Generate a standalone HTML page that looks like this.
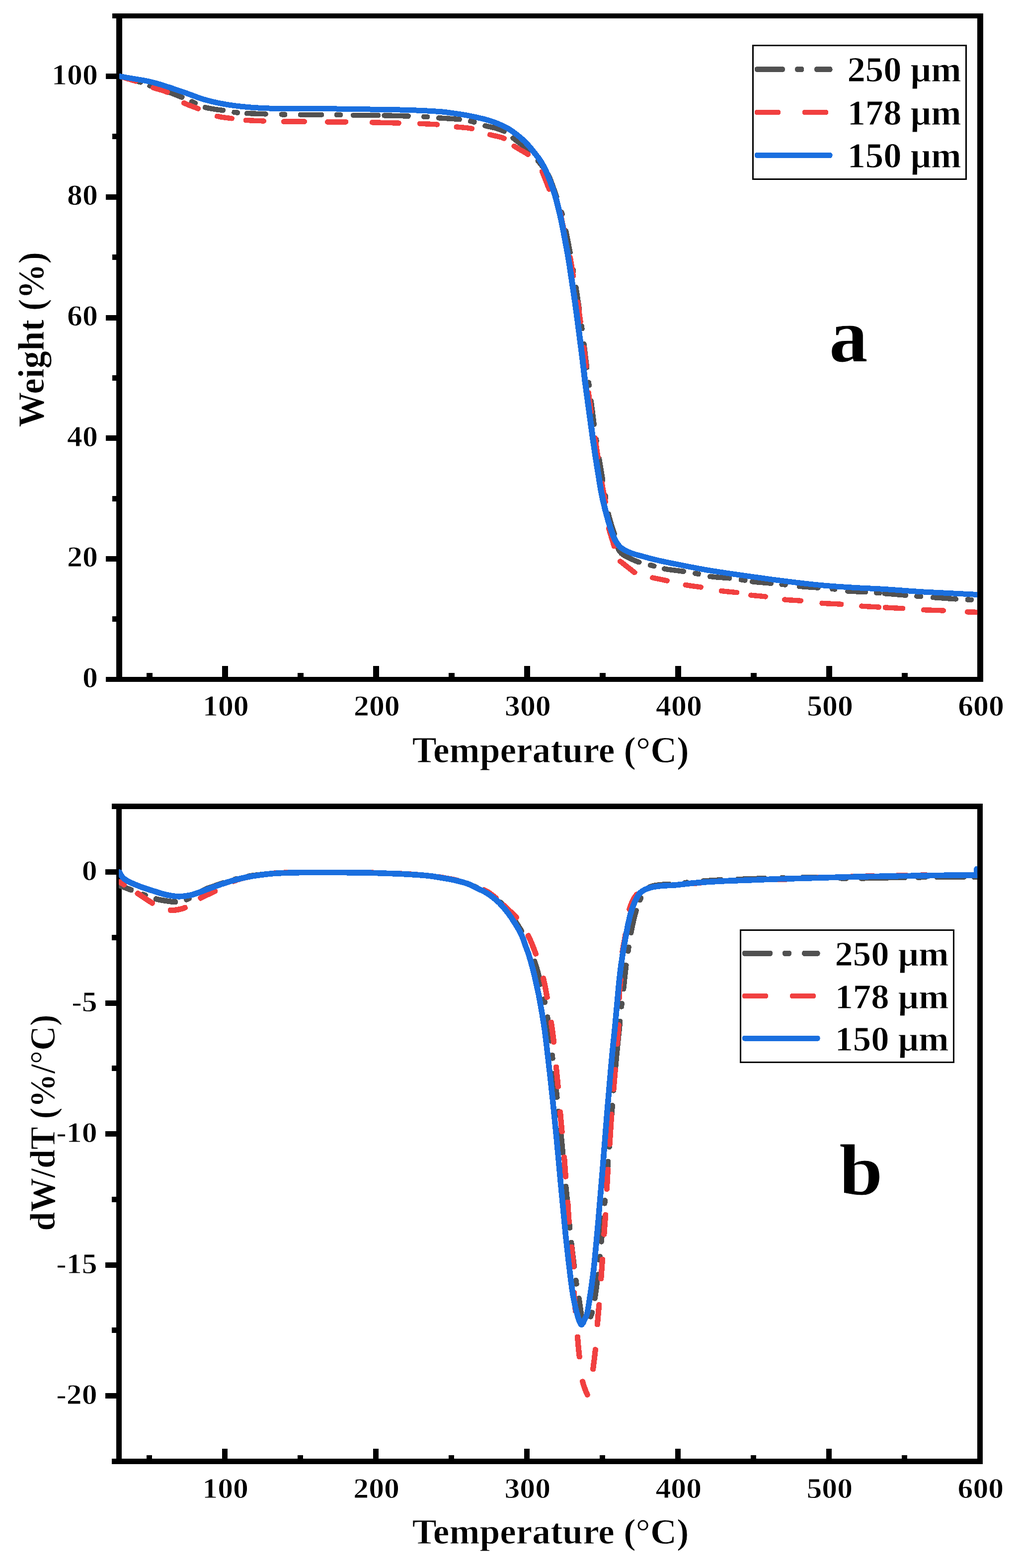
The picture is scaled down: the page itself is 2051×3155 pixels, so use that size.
<!DOCTYPE html>
<html lang="en"><head><meta charset="utf-8"><title>TGA and DTG curves</title>
<style>html,body{margin:0;padding:0;background:#fff}body{width:2051px;height:3155px}svg{display:block}.t{stroke:#fff;stroke-width:.9px;paint-order:fill stroke}</style>
</head><body>
<svg width="2051" height="3155" viewBox="0 0 2051 3155" font-family='"Liberation Serif", "DejaVu Serif", serif' font-weight="bold" fill="#000" shape-rendering="crispEdges">
<rect width="2051" height="3155" fill="#fff"/>
<defs><clipPath id="ca"><rect x="240" y="32" width="1727.2" height="1335"/></clipPath><clipPath id="cb"><rect x="239.1" y="1622" width="1728.1" height="1318"/></clipPath></defs>
<rect x="226.00" y="27.00" width="1753.00" height="10.00" fill="#000"/>
<rect x="213.00" y="1362.00" width="1766.00" height="10.00" fill="#000"/>
<rect x="234.00" y="27.00" width="12.00" height="1345.00" fill="#000"/>
<rect x="1967.00" y="27.00" width="12.00" height="1345.00" fill="#000"/>
<rect x="213.00" y="1119.00" width="27.00" height="10.50" fill="#000"/>
<rect x="213.00" y="876.00" width="27.00" height="10.50" fill="#000"/>
<rect x="213.00" y="634.00" width="27.00" height="10.50" fill="#000"/>
<rect x="213.00" y="391.00" width="27.00" height="10.50" fill="#000"/>
<rect x="213.00" y="148.00" width="27.00" height="10.50" fill="#000"/>
<rect x="226.00" y="1240.00" width="14.00" height="10.50" fill="#000"/>
<rect x="226.00" y="998.00" width="14.00" height="10.50" fill="#000"/>
<rect x="226.00" y="755.00" width="14.00" height="10.50" fill="#000"/>
<rect x="226.00" y="512.00" width="14.00" height="10.50" fill="#000"/>
<rect x="226.00" y="269.00" width="14.00" height="10.50" fill="#000"/>
<rect x="447.00" y="1340.00" width="12.00" height="27.00" fill="#000"/>
<rect x="751.00" y="1340.00" width="12.00" height="27.00" fill="#000"/>
<rect x="1055.00" y="1340.00" width="12.00" height="27.00" fill="#000"/>
<rect x="1359.00" y="1340.00" width="12.00" height="27.00" fill="#000"/>
<rect x="1663.00" y="1340.00" width="12.00" height="27.00" fill="#000"/>
<rect x="295.00" y="1354.00" width="12.00" height="13.00" fill="#000"/>
<rect x="599.00" y="1354.00" width="12.00" height="13.00" fill="#000"/>
<rect x="903.00" y="1354.00" width="12.00" height="13.00" fill="#000"/>
<rect x="1207.00" y="1354.00" width="12.00" height="13.00" fill="#000"/>
<rect x="1511.00" y="1354.00" width="12.00" height="13.00" fill="#000"/>
<rect x="1815.00" y="1354.00" width="12.00" height="13.00" fill="#000"/>
<rect x="225.00" y="1617.00" width="1753.00" height="11.00" fill="#000"/>
<rect x="225.00" y="2935.00" width="1753.00" height="11.00" fill="#000"/>
<rect x="234.00" y="1617.00" width="11.00" height="1329.00" fill="#000"/>
<rect x="1967.00" y="1617.00" width="11.00" height="1329.00" fill="#000"/>
<rect x="212.00" y="1749.00" width="28.00" height="10.50" fill="#000"/>
<rect x="212.00" y="2013.00" width="28.00" height="10.50" fill="#000"/>
<rect x="212.00" y="2276.00" width="28.00" height="10.50" fill="#000"/>
<rect x="212.00" y="2540.00" width="28.00" height="10.50" fill="#000"/>
<rect x="212.00" y="2803.00" width="28.00" height="10.50" fill="#000"/>
<rect x="225.00" y="1881.00" width="15.00" height="10.50" fill="#000"/>
<rect x="225.00" y="2144.00" width="15.00" height="10.50" fill="#000"/>
<rect x="225.00" y="2408.00" width="15.00" height="10.50" fill="#000"/>
<rect x="225.00" y="2671.00" width="15.00" height="10.50" fill="#000"/>
<rect x="447.00" y="2915.00" width="11.00" height="25.00" fill="#000"/>
<rect x="751.00" y="2915.00" width="11.00" height="25.00" fill="#000"/>
<rect x="1055.00" y="2915.00" width="11.00" height="25.00" fill="#000"/>
<rect x="1359.00" y="2915.00" width="11.00" height="25.00" fill="#000"/>
<rect x="1663.00" y="2915.00" width="11.00" height="25.00" fill="#000"/>
<rect x="295.00" y="2928.00" width="11.00" height="12.00" fill="#000"/>
<rect x="599.00" y="2928.00" width="11.00" height="12.00" fill="#000"/>
<rect x="903.00" y="2928.00" width="11.00" height="12.00" fill="#000"/>
<rect x="1207.00" y="2928.00" width="11.00" height="12.00" fill="#000"/>
<rect x="1511.00" y="2928.00" width="11.00" height="12.00" fill="#000"/>
<rect x="1815.00" y="2928.00" width="11.00" height="12.00" fill="#000"/>
<text transform="translate(196.80 1383.20) scale(1.0439 1)" font-size="59.20" text-anchor="end" class="t">0</text>
<text transform="translate(196.80 1140.48) scale(1.0439 1)" font-size="59.20" text-anchor="end" class="t">20</text>
<text transform="translate(196.80 897.76) scale(1.0439 1)" font-size="59.20" text-anchor="end" class="t">40</text>
<text transform="translate(196.80 655.04) scale(1.0439 1)" font-size="59.20" text-anchor="end" class="t">60</text>
<text transform="translate(196.80 412.32) scale(1.0439 1)" font-size="59.20" text-anchor="end" class="t">80</text>
<text transform="translate(196.80 169.60) scale(1.0439 1)" font-size="59.20" text-anchor="end" class="t">100</text>
<text transform="translate(454.33 1439.50) scale(1.0439 1)" font-size="59.20" text-anchor="middle" class="t">100</text>
<text transform="translate(758.37 1439.50) scale(1.0439 1)" font-size="59.20" text-anchor="middle" class="t">200</text>
<text transform="translate(1062.41 1439.50) scale(1.0439 1)" font-size="59.20" text-anchor="middle" class="t">300</text>
<text transform="translate(1366.45 1439.50) scale(1.0439 1)" font-size="59.20" text-anchor="middle" class="t">400</text>
<text transform="translate(1670.49 1439.50) scale(1.0439 1)" font-size="59.20" text-anchor="middle" class="t">500</text>
<text transform="translate(1974.53 1439.50) scale(1.0439 1)" font-size="59.20" text-anchor="middle" class="t">600</text>
<text transform="translate(195.60 1771.00) scale(1.0655 1)" font-size="58.00" text-anchor="end" class="t">0</text>
<text transform="translate(195.60 2034.50) scale(1.0655 1)" font-size="58.00" text-anchor="end" class="t">-5</text>
<text transform="translate(195.60 2298.00) scale(1.0655 1)" font-size="58.00" text-anchor="end" class="t">-10</text>
<text transform="translate(195.60 2561.50) scale(1.0655 1)" font-size="58.00" text-anchor="end" class="t">-15</text>
<text transform="translate(195.60 2825.00) scale(1.0655 1)" font-size="58.00" text-anchor="end" class="t">-20</text>
<text transform="translate(453.63 3013.60) scale(1.0655 1)" font-size="58.00" text-anchor="middle" class="t">100</text>
<text transform="translate(757.67 3013.60) scale(1.0655 1)" font-size="58.00" text-anchor="middle" class="t">200</text>
<text transform="translate(1061.71 3013.60) scale(1.0655 1)" font-size="58.00" text-anchor="middle" class="t">300</text>
<text transform="translate(1365.75 3013.60) scale(1.0655 1)" font-size="58.00" text-anchor="middle" class="t">400</text>
<text transform="translate(1669.79 3013.60) scale(1.0655 1)" font-size="58.00" text-anchor="middle" class="t">500</text>
<text transform="translate(1973.83 3013.60) scale(1.0655 1)" font-size="58.00" text-anchor="middle" class="t">600</text>
<text transform="translate(829.80 1533.73) scale(0.9957 1)" font-size="73.67" class="t">Temperature (°C)</text>
<text transform="translate(829.70 3105.89) scale(1.0058 1)" font-size="72.89" class="t">Temperature (°C)</text>
<text transform="translate(87.58 859.66) rotate(-90) scale(0.9622 1)" font-size="73.74" class="t">Weight (%)</text>
<text transform="translate(109.88 2476.64) rotate(-90) scale(0.9510 1)" font-size="72.00" class="t">dW/dT (%/°C)</text>
<text transform="translate(1668.81 726.83) scale(1.0168 1)" font-size="153.68" class="t">a</text>
<text transform="translate(1688.93 2403.75) scale(1.0886 1)" font-size="145.14" class="t">b</text>
<g clip-path="url(#ca)"><g transform="scale(1.1 1)">
<path d="M218.7 154.3 239.9 160.9 252.5 164.6 257.3 166.1 L257.7 164.8 252.9 163.2 240.3 159.6 219.1 152.9Z M273.8 173.1 276.8 174.3 L277.3 173.0 274.3 171.8Z M296.7 181.6 306.1 185.1 313.5 188.1 322.8 192.0 332.8 196.5 L333.4 195.2 323.3 190.7 314.1 186.8 306.6 183.8 297.2 180.3Z M350.4 205.1 357.0 208.4 L357.7 207.1 351.1 203.8Z M375.1 216.7 381.1 218.3 391.0 220.2 396.1 221.1 408.1 222.7 L408.3 221.3 396.3 219.7 391.3 218.9 381.4 216.9 375.5 215.4Z M428.4 226.5 434.6 227.4 L434.8 226.0 428.6 225.1Z M451.8 228.7 464.9 229.3 486.1 230.1 L486.1 228.7 465.0 227.9 451.9 227.3Z M515.1 231.0 521.3 231.2 L521.3 229.8 515.1 229.6Z M549.8 231.4 588.4 231.4 L588.4 230.0 549.8 230.0Z M616.1 231.8 623.0 232.0 L623.0 230.6 616.1 230.4Z M646.4 232.7 692.3 232.9 L692.3 231.5 646.4 231.3Z M703.1 233.1 725.1 233.6 747.1 234.3 L747.2 232.9 725.2 232.2 703.1 231.7Z M775.5 235.6 782.0 236.0 L782.1 234.7 775.6 234.2Z M802.8 238.0 828.8 239.8 840.7 241.0 L840.9 239.6 828.9 238.4 802.9 236.6Z M860.7 244.4 864.7 245.4 867.6 246.4 L868.0 245.0 865.1 244.1 861.1 243.0Z M887.4 253.6 892.3 254.9 903.0 257.5 907.8 258.8 916.2 261.9 919.8 263.5 922.5 264.9 L923.2 263.7 920.5 262.2 916.8 260.6 908.2 257.5 903.4 256.1 892.6 253.6 887.8 252.3Z M938.3 278.0 957.0 293.9 963.0 299.3 967.3 303.6 L968.4 302.7 964.0 298.3 957.9 292.8 939.2 276.9Z M984.0 323.9 993.2 336.6 L994.3 335.8 985.2 323.0Z M1002.4 352.1 1004.3 356.8 1006.8 363.4 1012.9 381.6 1017.5 396.0 L1018.8 395.6 1014.2 381.2 1008.1 362.9 1005.6 356.2 1003.6 351.6Z M1026.5 426.9 1027.7 431.8 L1029.1 431.4 1027.8 426.5Z M1034.3 464.1 1038.1 485.2 1042.1 508.3 L1043.5 508.1 1039.5 484.9 1035.6 463.8Z M1047.6 542.5 1048.2 546.2 L1049.6 545.9 1049.0 542.2Z M1052.8 577.8 1059.0 623.3 L1060.4 623.2 1054.2 577.6Z M1063.1 655.6 1063.9 662.1 L1065.3 661.9 1064.5 655.4Z M1067.4 691.5 1072.7 740.1 L1074.1 740.0 1068.7 691.4Z M1075.9 769.1 1076.8 776.1 L1078.2 776.0 1077.3 768.9Z M1080.3 806.1 1086.1 854.5 L1087.4 854.4 1081.7 805.9Z M1089.8 883.8 1090.4 887.7 L1091.8 887.5 1091.2 883.6Z M1095.3 922.4 1101.9 966.6 L1103.2 966.4 1096.6 922.2Z M1106.4 996.4 1107.2 1002.2 L1108.6 1002.0 1107.8 996.2Z M1112.1 1033.6 1113.9 1041.6 1117.0 1053.3 1123.3 1074.7 L1124.7 1074.3 1118.3 1053.0 1115.3 1041.2 1113.4 1033.3Z M1130.1 1102.2 1131.5 1106.0 1132.9 1108.8 1134.0 1110.5 L1135.2 1109.7 1134.1 1108.1 1132.8 1105.4 1131.4 1101.7Z M1136.6 1113.7 1138.8 1115.8 1140.5 1117.1 1143.0 1118.8 1146.5 1120.9 1155.4 1125.7 1159.9 1128.0 1164.5 1130.1 1169.2 1132.0 L1169.7 1130.7 1165.0 1128.8 1160.5 1126.7 1156.0 1124.5 1147.2 1119.7 1143.7 1117.6 1141.3 1116.0 1139.8 1114.7 1137.6 1112.7Z M1189.7 1137.7 1196.6 1139.6 L1197.0 1138.3 1190.1 1136.3Z M1215.3 1145.2 1220.4 1146.2 1225.4 1147.0 1250.7 1150.5 L1250.9 1149.1 1225.6 1145.6 1220.6 1144.8 1215.6 1143.8Z M1271.7 1154.3 1277.8 1155.7 L1278.2 1154.3 1272.0 1153.0Z M1299.1 1160.7 1309.3 1161.9 1334.9 1164.1 L1335.0 1162.7 1309.4 1160.5 1299.3 1159.3Z M1355.9 1167.0 1363.0 1168.3 L1363.3 1166.9 1356.1 1165.6Z M1376.3 1171.0 1386.4 1172.2 1410.7 1174.4 L1410.9 1173.0 1386.5 1170.8 1376.4 1169.6Z M1430.3 1176.5 1436.9 1177.3 L1437.1 1175.9 1430.5 1175.1Z M1462.4 1180.6 1472.6 1181.5 1497.0 1183.3 L1497.1 1181.9 1472.7 1180.1 1462.5 1179.2Z M1522.8 1185.7 1527.7 1186.3 L1527.9 1184.9 1523.0 1184.3Z M1551.0 1190.2 1560.0 1190.8 1584.0 1191.6 L1584.1 1190.2 1560.1 1189.4 1551.1 1188.8Z M1603.5 1193.4 1609.5 1194.0 L1609.7 1192.6 1603.6 1192.0Z M1618.5 1194.9 1657.1 1198.4 L1657.3 1197.0 1618.6 1193.5Z M1677.3 1200.3 1684.6 1200.9 L1684.8 1199.5 1677.4 1198.9Z M1707.3 1202.8 1749.0 1206.1 L1749.1 1204.7 1707.4 1201.4Z M1770.5 1207.2 1777.3 1207.6 L1777.3 1206.2 1770.5 1205.8Z" fill="#515151" stroke="#515151" stroke-width="9.00" stroke-linejoin="round"/>
<path d="M218.6 154.3 248.3 164.1 L248.7 162.8 219.0 152.9Z M280.0 177.1 284.8 178.8 297.4 182.7 302.1 184.5 305.8 186.2 L306.4 185.0 302.6 183.3 297.9 181.4 285.2 177.4 280.5 175.8Z M335.9 207.5 340.3 209.9 344.9 212.0 362.6 219.3 L363.1 218.0 345.5 210.7 340.9 208.6 336.5 206.3Z M397.1 234.4 402.0 235.7 407.1 236.7 424.2 239.1 L424.4 237.7 407.3 235.3 402.3 234.3 397.5 233.1Z M449.6 242.6 461.7 243.3 482.7 244.2 L482.8 242.8 461.7 241.9 449.8 241.2Z M518.9 245.3 557.3 245.3 L557.3 243.9 518.9 243.9Z M599.1 246.1 633.0 246.1 L633.0 244.7 599.1 244.7Z M680.8 247.0 729.8 248.3 L729.8 246.9 680.8 245.6Z M768.2 249.6 788.8 250.4 800.0 251.2 L800.2 249.8 788.8 249.1 768.2 248.2Z M834.9 256.0 854.5 258.0 859.5 258.8 863.6 259.6 L863.9 258.2 859.8 257.4 854.6 256.6 835.1 254.6Z M896.1 271.4 901.0 272.9 910.9 275.3 914.8 276.3 918.6 277.6 922.2 279.3 L922.8 278.1 919.1 276.3 915.2 275.0 911.2 273.9 901.4 271.5 896.5 270.1Z M940.2 294.3 945.9 298.3 959.5 306.9 962.8 309.1 965.9 311.5 L966.8 310.4 963.6 308.0 960.3 305.7 946.7 297.2 941.0 293.2Z M991.4 344.6 1001.9 373.8 1004.7 381.3 L1006.0 380.8 1003.2 373.3 992.7 344.1Z M1023.2 424.6 1025.1 432.5 1028.2 449.6 1030.7 461.6 L1032.1 461.4 1029.6 449.3 1026.5 432.2 1024.5 424.2Z M1042.2 517.5 1044.3 530.4 1048.0 556.1 L1049.4 555.9 1045.7 530.2 1043.6 517.3Z M1056.1 607.4 1061.2 647.6 L1062.6 647.5 1057.5 607.2Z M1067.2 698.3 1069.9 722.7 1071.5 738.0 L1072.9 737.9 1071.3 722.6 1068.6 698.2Z M1075.8 789.6 1077.7 806.6 1080.6 829.6 L1082.0 829.4 1079.1 806.4 1077.2 789.4Z M1087.7 880.6 1093.1 920.5 L1094.5 920.3 1089.1 880.4Z M1100.2 971.5 1106.8 1010.2 L1108.2 1010.0 1101.6 971.3Z M1113.5 1062.7 1114.7 1067.6 1117.6 1078.3 1123.5 1099.5 L1124.9 1099.2 1119.0 1077.9 1116.1 1067.2 1114.9 1062.4Z M1134.1 1129.8 1137.2 1132.2 1159.3 1151.3 1160.7 1152.7 L1161.7 1151.7 1160.2 1150.3 1138.1 1131.2 1134.9 1128.7Z M1193.7 1163.0 1220.7 1169.2 L1221.0 1167.8 1194.0 1161.7Z M1254.0 1177.6 1262.1 1179.1 1282.5 1182.2 L1282.7 1180.8 1262.3 1177.7 1254.3 1176.2Z M1319.6 1189.6 1325.7 1190.5 1341.1 1192.1 1348.3 1193.0 L1348.5 1191.6 1341.3 1190.7 1325.9 1189.1 1319.8 1188.3Z M1373.8 1198.2 1379.8 1199.0 1393.8 1200.4 1400.7 1201.2 L1400.9 1199.8 1393.9 1199.0 1380.0 1197.6 1374.0 1196.9Z M1435.4 1207.2 1443.6 1208.0 1458.1 1208.9 1465.3 1209.5 L1465.4 1208.1 1458.2 1207.5 1443.7 1206.6 1435.5 1205.8Z M1504.0 1214.4 1512.1 1215.0 1531.4 1216.0 1539.5 1216.5 L1539.6 1215.1 1531.5 1214.6 1512.2 1213.6 1504.1 1213.0Z M1576.4 1220.3 1586.7 1221.0 1608.3 1222.3 L1608.4 1220.9 1586.8 1219.6 1576.5 1218.9Z M1619.7 1223.1 1652.1 1225.0 L1652.2 1223.6 1619.8 1221.7Z M1689.9 1227.9 1726.3 1229.2 L1726.3 1227.8 1690.0 1226.5Z M1770.0 1232.0 1790.9 1232.6 L1791.0 1231.2 1770.0 1230.6Z" fill="#F14040" stroke="#F14040" stroke-width="9.00" stroke-linejoin="round"/>
<path d="M214.5 152.8 L263.4 161.9 L271.9 163.7 L279.4 165.7 L292.8 169.8 L311.1 176.2 L340.5 187.3 L363.7 196.7 L374.5 200.5 L386.5 204.0 L399.5 207.2 L413.8 210.2 L427.1 212.4 L442.7 214.4 L458.3 216.0 L476.3 217.3 L494.9 218.1 L513.5 218.5 L568.5 218.5 L596.7 218.7 L719.4 220.7 L746.6 221.4 L766.8 222.2 L789.3 223.4 L807.5 224.8 L813.5 225.4 L829.6 227.8 L850.2 231.2 L867.0 234.8 L884.7 239.3 L896.4 242.9 L906.1 246.7 L920.2 253.2 L925.2 256.0 L929.9 258.9 L937.5 264.3 L945.4 270.7 L953.0 277.6 L960.5 285.2 L965.5 291.0 L969.7 296.2 L984.5 316.7 L987.0 320.4 L991.2 327.9 L995.5 336.4 L998.7 343.7 L1002.7 353.8 L1006.8 365.1 L1010.6 376.7 L1015.1 391.3 L1017.8 401.4 L1024.5 430.9 L1028.5 451.1 L1032.0 471.2 L1039.0 512.5 L1041.9 531.9 L1051.8 605.0 L1055.0 629.9 L1065.7 720.9 L1070.3 765.5 L1084.4 879.3 L1089.9 920.7 L1099.8 987.9 L1103.4 1007.0 L1107.5 1025.9 L1112.5 1046.2 L1118.0 1065.9 L1122.2 1078.5 L1125.3 1086.2 L1127.4 1090.2 L1129.7 1094.1 L1131.7 1097.0 L1133.8 1099.6 L1135.9 1101.7 L1138.1 1103.5 L1143.6 1107.3 L1149.3 1110.4 L1156.9 1113.6 L1163.0 1115.7 L1175.7 1119.4 L1191.7 1124.3 L1207.8 1128.5 L1229.6 1133.5 L1273.1 1142.9 L1294.6 1147.2 L1334.1 1153.9 L1411.6 1165.9 L1447.4 1170.9 L1478.4 1174.9 L1502.5 1177.6 L1525.3 1179.7 L1567.8 1182.7 L1618.1 1185.4 L1671.3 1189.7 L1689.7 1191.0 L1795.5 1196.8" fill="none" stroke="#1A6FDF" stroke-width="11.0" stroke-linejoin="round" stroke-linecap="round"/>
</g></g>
<g clip-path="url(#cb)"><g transform="scale(1.0 1)">
<path d="M240.3 1782.3 264.1 1791.6 L264.7 1790.1 240.8 1780.8Z M287.0 1800.4 292.5 1802.5 L293.1 1801.0 287.5 1798.9Z M313.3 1809.5 318.2 1810.7 323.2 1811.7 339.2 1814.2 347.2 1815.2 350.3 1815.5 353.3 1815.5 L353.3 1813.9 350.3 1813.9 347.3 1813.7 339.4 1812.7 323.5 1810.2 318.6 1809.2 313.7 1808.0Z M375.2 1810.8 380.9 1808.5 L380.3 1807.0 374.6 1809.3Z M404.6 1795.2 408.0 1793.1 410.6 1791.6 416.1 1789.1 441.0 1780.2 450.6 1776.9 L450.1 1775.4 440.5 1778.7 415.5 1787.6 409.9 1790.2 407.2 1791.7 403.7 1793.9Z M473.0 1770.0 477.6 1768.8 L477.2 1767.3 472.6 1768.5Z M499.9 1764.1 507.7 1762.8 516.7 1761.6 529.6 1760.2 540.5 1759.1 L540.4 1757.5 529.4 1758.6 516.5 1760.0 507.5 1761.2 499.6 1762.5Z M564.6 1757.6 570.2 1757.4 L570.2 1755.8 564.5 1756.0Z M594.8 1756.6 606.9 1756.6 640.1 1756.6 L640.1 1755.0 606.9 1755.0 594.8 1755.0Z M664.9 1756.6 669.9 1756.6 L669.9 1755.0 664.9 1755.0Z M695.0 1756.6 723.0 1756.8 740.0 1757.1 L740.0 1755.5 723.0 1755.2 695.0 1755.0Z M764.8 1758.0 770.0 1758.1 L770.0 1756.5 764.8 1756.4Z M794.6 1758.9 812.9 1759.7 840.3 1761.3 L840.4 1759.7 812.9 1758.1 794.6 1757.3Z M862.9 1763.2 868.2 1763.9 L868.4 1762.3 863.1 1761.7Z M890.5 1767.4 903.4 1769.7 912.4 1771.4 924.2 1774.1 933.0 1776.4 L933.4 1774.8 924.6 1772.6 912.7 1769.9 903.7 1768.1 890.8 1765.8Z M954.0 1784.1 959.3 1786.6 L960.0 1785.1 954.7 1782.7Z M978.9 1795.9 983.4 1798.5 988.6 1802.0 993.6 1805.6 997.7 1808.8 L998.7 1807.5 994.6 1804.3 989.5 1800.7 984.2 1797.2 979.7 1794.5Z M1006.1 1816.0 1009.7 1819.6 1013.2 1823.3 L1014.3 1822.2 1010.8 1818.5 1007.2 1814.9Z M1026.3 1839.3 1030.6 1845.0 1034.6 1850.9 1045.5 1868.2 1049.2 1874.3 L1050.6 1873.5 1046.9 1867.4 1035.9 1850.0 1031.9 1844.1 1027.6 1838.3Z M1075.0 1934.3 1078.4 1944.8 1081.7 1956.4 1083.7 1964.2 1087.5 1981.0 L1089.0 1980.6 1085.2 1963.9 1083.3 1956.0 1079.9 1944.3 1076.5 1933.8Z M1094.2 2010.0 1095.7 2017.6 L1097.3 2017.3 1095.8 2009.7Z M1100.9 2046.1 1103.0 2059.0 1104.6 2069.9 1106.2 2081.9 1107.6 2094.8 L1109.2 2094.7 1107.8 2081.7 1106.2 2069.7 1104.6 2058.8 1102.5 2045.9Z M1110.6 2122.9 1111.4 2129.8 L1112.9 2129.7 1112.2 2122.7Z M1114.7 2159.4 1120.2 2208.2 L1121.8 2208.0 1116.3 2159.2Z M1123.2 2235.9 1124.1 2244.8 L1125.7 2244.6 1124.7 2235.7Z M1127.2 2273.3 1129.7 2297.2 1131.9 2320.2 L1133.5 2320.0 1131.3 2297.1 1128.8 2273.2Z M1134.5 2349.9 1135.0 2355.2 L1136.6 2355.1 1136.1 2349.7Z M1138.0 2386.9 1142.6 2434.3 L1144.2 2434.2 1139.6 2386.7Z M1145.4 2464.3 1146.0 2471.2 L1147.6 2471.1 1147.0 2464.2Z M1148.9 2499.9 1154.8 2548.7 L1156.4 2548.5 1150.5 2499.7Z M1158.1 2575.8 1159.3 2583.9 L1160.9 2583.7 1159.7 2575.6Z M1164.3 2611.9 1169.6 2649.1 1170.3 2652.1 1171.7 2656.0 L1173.2 2655.4 1171.8 2651.7 1171.0 2647.8 1165.9 2611.6Z M1189.0 2649.9 1191.2 2644.8 1192.5 2640.5 L1191.0 2640.1 1189.7 2644.2 1187.6 2649.3Z M1197.9 2613.0 1199.1 2605.1 1200.4 2596.1 1204.4 2564.3 L1202.9 2564.1 1198.8 2595.9 1197.6 2604.8 1196.3 2612.7Z M1207.6 2535.8 1208.3 2527.9 L1206.7 2527.8 1206.0 2535.7Z M1211.0 2498.8 1215.2 2450.6 L1213.6 2450.5 1209.4 2498.7Z M1217.6 2421.8 1218.2 2414.9 L1216.6 2414.8 1216.0 2421.7Z M1220.8 2384.3 1224.7 2336.9 L1223.1 2336.8 1219.2 2384.2Z M1227.0 2308.2 1229.0 2280.6 L1227.4 2280.5 1225.4 2308.1Z M1230.1 2265.3 1233.2 2224.0 L1231.6 2223.9 1228.5 2265.1Z M1235.4 2194.8 1237.1 2174.8 L1235.5 2174.7 1233.8 2194.7Z M1238.7 2156.8 1242.1 2119.8 1248.7 2054.8 L1247.1 2054.7 1240.5 2119.6 1237.1 2156.6Z M1251.4 2025.9 1252.1 2018.7 L1250.5 2018.6 1249.8 2025.8Z M1255.5 1990.3 1260.8 1942.0 L1259.3 1941.8 1253.9 1990.1Z M1264.8 1914.2 1266.1 1905.5 L1264.5 1905.3 1263.2 1914.0Z M1270.6 1877.2 1273.2 1864.3 1276.0 1851.5 1278.7 1840.7 1281.1 1832.0 L1279.6 1831.5 1277.1 1840.3 1274.5 1851.1 1271.6 1864.0 1269.0 1876.9Z M1288.6 1811.6 1290.7 1806.4 L1289.2 1805.8 1287.1 1811.0Z M1307.6 1785.5 1315.3 1783.2 1318.2 1782.6 1321.2 1782.1 1326.1 1781.5 1337.2 1780.6 1347.2 1780.0 L1347.2 1778.4 1337.0 1779.0 1326.0 1780.0 1320.9 1780.5 1317.9 1781.0 1314.9 1781.7 1307.1 1784.0Z M1378.5 1777.3 1383.2 1776.7 L1383.0 1775.1 1378.3 1775.7Z M1415.0 1773.7 1432.0 1772.5 1452.0 1771.4 L1451.9 1769.8 1431.9 1771.0 1414.9 1772.1Z M1484.6 1770.2 1505.7 1769.6 1539.9 1768.2 L1539.9 1766.6 1505.7 1768.0 1484.6 1768.6Z M1573.8 1767.2 1577.2 1767.1 L1577.2 1765.5 1573.8 1765.6Z M1615.0 1766.5 1639.1 1766.3 1655.2 1766.3 L1655.2 1764.7 1639.1 1764.7 1615.0 1764.9Z M1691.1 1767.7 1703.9 1768.0 L1703.9 1766.4 1691.1 1766.1Z M1732.6 1767.9 1793.3 1766.6 1821.6 1766.2 L1821.5 1764.6 1793.2 1765.0 1732.6 1766.3Z M1846.6 1765.8 1862.8 1765.6 L1862.8 1764.0 1846.5 1764.2Z M1885.1 1765.3 1914.4 1765.1 1940.6 1765.1 L1940.6 1763.5 1914.4 1763.5 1885.1 1763.7Z M1960.0 1765.1 1970.2 1765.1 L1970.2 1763.5 1960.0 1763.5Z" fill="#515151" stroke="#515151" stroke-width="9.60" stroke-linejoin="round"/>
<path d="M239.9 1774.9 249.9 1781.0 L250.7 1779.7 240.7 1773.5Z M276.2 1797.9 296.3 1811.5 301.4 1814.8 306.6 1817.9 L307.4 1816.6 302.3 1813.4 297.2 1810.2 277.1 1796.6Z M342.7 1832.2 345.8 1832.4 349.0 1832.3 353.1 1831.9 358.3 1831.1 362.3 1830.3 366.4 1829.3 370.4 1828.0 373.3 1826.8 L372.6 1825.4 369.8 1826.5 366.0 1827.8 362.0 1828.7 358.0 1829.5 352.9 1830.3 348.9 1830.8 345.9 1830.8 342.8 1830.6Z M403.9 1807.9 410.1 1804.6 426.5 1796.9 433.7 1793.2 L433.0 1791.8 425.8 1795.5 409.4 1803.2 403.1 1806.6Z M469.7 1774.0 476.2 1771.5 483.8 1769.1 492.6 1766.9 505.4 1764.2 L505.1 1762.7 492.2 1765.4 483.4 1767.5 475.6 1769.9 469.0 1772.6Z M550.1 1758.0 565.1 1757.1 585.2 1756.5 L585.2 1754.9 565.0 1755.5 549.9 1756.4Z M634.8 1756.2 669.9 1756.1 L669.9 1754.5 634.8 1754.6Z M719.7 1756.3 738.9 1756.5 755.2 1757.0 L755.2 1755.4 739.0 1754.9 719.7 1754.7Z M804.6 1758.7 823.0 1759.6 840.3 1760.7 L840.4 1759.1 823.0 1758.0 804.7 1757.1Z M884.8 1765.7 906.6 1769.4 913.4 1770.7 920.2 1772.3 L920.6 1770.8 913.8 1769.2 906.9 1767.8 885.1 1764.1Z M973.2 1791.3 978.7 1793.8 981.3 1795.3 983.9 1796.9 990.4 1801.6 998.3 1808.1 L999.3 1806.9 991.4 1800.4 984.7 1795.6 982.1 1793.9 979.4 1792.4 973.8 1789.8Z M1013.2 1822.0 1024.1 1832.4 1033.0 1840.5 1035.8 1843.4 1039.1 1847.1 L1040.3 1846.0 1036.9 1842.3 1034.1 1839.4 1025.2 1831.2 1014.3 1820.8Z M1062.3 1882.5 1065.8 1889.9 1069.8 1899.2 1073.9 1909.6 1077.8 1920.0 L1079.3 1919.5 1075.4 1909.0 1071.3 1898.6 1067.2 1889.2 1063.8 1881.8Z M1092.6 1968.2 1094.3 1975.1 1096.0 1983.1 1100.4 2007.1 L1102.0 2006.9 1097.6 1982.8 1095.8 1974.8 1094.2 1967.8Z M1108.5 2056.6 1111.5 2077.8 1113.9 2097.0 L1115.5 2096.9 1113.1 2077.6 1110.1 2056.4Z M1118.7 2146.6 1122.5 2187.1 L1124.1 2186.9 1120.2 2146.4Z M1126.7 2237.1 1130.3 2277.6 L1131.9 2277.4 1128.3 2236.9Z M1134.8 2328.1 1137.7 2368.1 L1139.3 2367.9 1136.4 2327.9Z M1141.9 2418.6 1143.7 2448.6 1144.5 2459.6 L1146.1 2459.4 1145.3 2448.5 1143.5 2418.5Z M1149.7 2508.6 1152.5 2535.5 1153.6 2549.5 L1155.2 2549.4 1154.1 2535.3 1151.2 2508.4Z M1154.6 2600.4 1155.4 2613.4 1157.7 2638.4 L1159.3 2638.2 1157.0 2613.3 1156.2 2600.3Z M1161.6 2689.6 1163.6 2712.6 1165.5 2730.7 L1167.1 2730.5 1165.2 2712.5 1163.2 2689.5Z M1171.7 2779.6 1173.3 2785.5 1175.6 2792.2 1178.1 2798.8 1181.7 2807.1 L1183.1 2806.5 1179.6 2798.2 1177.1 2791.6 1174.8 2785.0 1173.2 2779.2Z M1194.3 2755.5 1197.2 2733.3 1199.2 2715.2 L1197.7 2715.0 1195.7 2733.2 1192.8 2755.3Z M1203.1 2665.6 1206.6 2625.1 L1205.0 2625.0 1201.5 2665.4Z M1210.5 2573.5 1213.4 2533.6 L1211.8 2533.5 1208.9 2573.4Z M1216.6 2484.1 1219.6 2444.1 L1218.0 2444.0 1215.0 2484.0Z M1222.1 2393.0 1224.3 2352.6 L1222.7 2352.5 1220.5 2392.9Z M1227.8 2303.0 1231.7 2241.6 L1230.1 2241.5 1226.2 2302.9Z M1235.9 2191.9 1239.0 2151.6 L1237.4 2151.5 1234.3 2191.8Z M1243.1 2101.0 1245.0 2076.9 1245.9 2061.8 L1244.3 2061.7 1243.4 2076.8 1241.5 2100.9Z M1246.8 2009.2 1247.1 2001.1 1247.6 1994.0 1250.1 1970.7 L1248.5 1970.6 1246.0 1993.9 1245.5 2001.0 1245.2 2009.2Z M1253.5 1915.8 1254.9 1907.8 1258.2 1889.6 1259.6 1880.5 L1258.1 1880.3 1256.6 1889.4 1253.3 1907.5 1251.9 1915.6Z M1267.6 1830.3 1268.8 1826.4 1270.4 1821.7 1272.3 1817.1 1274.3 1812.6 1276.2 1809.1 1277.7 1806.6 1280.6 1802.5 1282.3 1800.1 L1281.1 1799.1 1279.3 1801.6 1276.4 1805.7 1274.8 1808.3 1272.9 1811.9 1270.8 1816.5 1268.9 1821.2 1267.2 1825.9 1266.1 1829.8Z M1304.9 1788.0 1311.6 1786.1 1314.5 1785.5 1318.4 1784.8 1326.3 1783.9 1340.2 1782.8 L1340.2 1781.2 1326.1 1782.3 1318.1 1783.2 1314.2 1783.9 1311.2 1784.6 1304.4 1786.5Z M1399.0 1778.0 1410.4 1777.0 L1410.3 1775.4 1398.8 1776.4Z M1468.1 1773.5 1471.0 1773.4 L1471.0 1771.8 1468.0 1771.9Z M1567.0 1770.3 1584.3 1769.7 L1584.2 1768.1 1566.9 1768.7Z M1635.0 1767.3 1665.2 1766.0 L1665.1 1764.4 1634.9 1765.7Z M1714.4 1764.3 1721.0 1764.1 L1720.9 1762.5 1714.4 1762.7Z M1743.0 1763.7 1758.3 1763.4 L1758.3 1761.8 1743.0 1762.1Z M1805.1 1762.7 1825.3 1762.4 L1825.2 1760.8 1805.0 1761.1Z M1852.9 1761.9 1865.4 1761.7 L1865.4 1760.1 1852.9 1760.3Z M1912.2 1761.2 1926.3 1761.1 L1926.3 1759.5 1912.2 1759.6Z" fill="#F14040" stroke="#F14040" stroke-width="9.60" stroke-linejoin="round"/>
<path d="M236.0 1754.5 L239.1 1754.5 L240.3 1755.0 L241.1 1756.1 L243.0 1760.0 L246.1 1764.4 L249.2 1767.6 L252.9 1770.4 L256.6 1772.7 L261.3 1775.1 L267.8 1778.1 L275.9 1781.4 L284.1 1784.6 L291.7 1787.3 L321.2 1796.7 L328.5 1798.9 L336.9 1800.9 L345.8 1802.5 L352.8 1803.4 L359.3 1803.8 L366.4 1803.6 L373.5 1802.9 L381.6 1801.5 L389.0 1799.7 L396.9 1797.1 L428.1 1785.3 L446.8 1778.6 L466.2 1772.5 L482.4 1768.1 L496.6 1764.9 L510.5 1762.4 L529.4 1759.8 L546.2 1757.9 L556.4 1757.2 L568.3 1756.6 L602.0 1755.7 L669.6 1755.6 L722.8 1755.8 L741.4 1756.1 L801.9 1758.1 L827.8 1759.5 L849.6 1761.0 L862.1 1762.2 L872.0 1763.4 L904.2 1768.8 L913.1 1770.6 L925.1 1773.4 L933.5 1775.7 L940.1 1777.8 L944.5 1779.5 L949.1 1781.6 L960.4 1787.2 L972.6 1792.9 L979.4 1796.6 L985.2 1800.4 L992.0 1805.4 L999.1 1811.3 L1004.9 1816.6 L1009.7 1821.7 L1017.6 1830.8 L1023.6 1838.6 L1028.6 1845.5 L1038.1 1860.3 L1043.3 1868.9 L1047.5 1876.9 L1051.3 1885.1 L1053.6 1890.8 L1057.9 1903.4 L1063.1 1917.3 L1068.1 1933.7 L1072.0 1948.1 L1075.3 1961.2 L1084.3 2001.6 L1090.9 2038.2 L1096.0 2070.6 L1099.3 2096.4 L1107.3 2165.6 L1111.6 2205.0 L1120.8 2296.7 L1127.4 2368.6 L1138.6 2486.4 L1143.0 2526.3 L1148.7 2573.8 L1151.4 2593.8 L1153.0 2604.3 L1155.7 2618.9 L1158.7 2632.7 L1162.5 2647.1 L1166.1 2658.1 L1168.0 2662.5 L1169.3 2664.5 L1170.3 2665.2 L1171.1 2664.9 L1171.8 2664.1 L1173.2 2662.2 L1174.1 2660.5 L1177.0 2654.0 L1180.7 2646.5 L1181.7 2643.6 L1182.5 2640.4 L1185.7 2620.7 L1188.3 2603.3 L1193.7 2564.9 L1195.2 2552.3 L1199.0 2513.9 L1204.0 2458.8 L1212.8 2353.4 L1222.0 2238.1 L1229.8 2146.3 L1232.3 2119.8 L1238.1 2062.1 L1246.0 1976.3 L1247.8 1959.6 L1250.2 1940.6 L1253.8 1916.5 L1258.9 1887.3 L1264.0 1860.4 L1268.3 1841.8 L1270.2 1835.1 L1272.1 1828.9 L1274.6 1822.2 L1277.1 1815.9 L1279.4 1810.8 L1281.5 1806.9 L1284.8 1801.2 L1287.2 1797.9 L1289.7 1795.5 L1292.5 1793.4 L1296.0 1791.2 L1300.0 1789.2 L1304.2 1787.5 L1308.6 1786.1 L1314.3 1784.7 L1318.6 1783.9 L1325.1 1783.1 L1336.4 1782.0 L1354.6 1781.2 L1362.2 1780.6 L1392.5 1777.1 L1404.3 1776.0 L1423.7 1774.6 L1445.6 1773.3 L1463.7 1772.4 L1503.4 1771.1 L1558.5 1768.9 L1712.5 1764.4 L1764.1 1763.4 L1891.0 1761.4 L1921.3 1761.1 L1975.0 1761.2 M1966 1761.2 L1966 1748.6" fill="none" stroke="#1A6FDF" stroke-width="11.6" stroke-linejoin="round" stroke-linecap="round"/>
</g></g>
<rect x="1515.65" y="91.65" width="429" height="268.60" fill="#fff" stroke="#000" stroke-width="2.9"/>
<path d="M1523.50 138.50 L1575.50 138.50 L1575.50 140.50 L1523.50 140.50Z" fill="#515151" stroke="#515151" stroke-width="9.0" stroke-linejoin="round"/>
<path d="M1604.60 138.50 L1613.60 138.50 L1613.60 140.50 L1604.60 140.50Z" fill="#515151" stroke="#515151" stroke-width="9.0" stroke-linejoin="round"/>
<path d="M1643.70 138.50 L1671.00 138.50 L1671.00 140.50 L1643.70 140.50Z" fill="#515151" stroke="#515151" stroke-width="9.0" stroke-linejoin="round"/>
<path d="M1523.50 225.30 L1566.70 225.30 L1566.70 226.70 L1523.50 226.70Z" fill="#F14040" stroke="#F14040" stroke-width="9.0" stroke-linejoin="round"/>
<path d="M1619.20 225.30 L1662.70 225.30 L1662.70 226.70 L1619.20 226.70Z" fill="#F14040" stroke="#F14040" stroke-width="9.0" stroke-linejoin="round"/>
<path d="M1523.50 311.40 L1671.00 311.40 L1671.00 313.40 L1523.50 313.40Z" fill="#1A6FDF" stroke="#1A6FDF" stroke-width="9.0" stroke-linejoin="round"/>
<text transform="translate(1705.40 164.40) scale(1.0069 1)" font-size="72.30" text-anchor="start" class="t">250 μm</text>
<text transform="translate(1705.40 251.00) scale(1.0069 1)" font-size="72.30" text-anchor="start" class="t">178 μm</text>
<text transform="translate(1705.40 337.20) scale(1.0069 1)" font-size="72.30" text-anchor="start" class="t">150 μm</text>
<rect x="1490.65" y="1871.65" width="429" height="266.10" fill="#fff" stroke="#000" stroke-width="2.9"/>
<path d="M1498.50 1917.30 L1550.50 1917.30 L1550.50 1919.30 L1498.50 1919.30Z" fill="#515151" stroke="#515151" stroke-width="9.0" stroke-linejoin="round"/>
<path d="M1579.60 1917.30 L1588.60 1917.30 L1588.60 1919.30 L1579.60 1919.30Z" fill="#515151" stroke="#515151" stroke-width="9.0" stroke-linejoin="round"/>
<path d="M1618.70 1917.30 L1646.00 1917.30 L1646.00 1919.30 L1618.70 1919.30Z" fill="#515151" stroke="#515151" stroke-width="9.0" stroke-linejoin="round"/>
<path d="M1498.50 2003.20 L1541.70 2003.20 L1541.70 2004.60 L1498.50 2004.60Z" fill="#F14040" stroke="#F14040" stroke-width="9.0" stroke-linejoin="round"/>
<path d="M1594.20 2003.20 L1637.70 2003.20 L1637.70 2004.60 L1594.20 2004.60Z" fill="#F14040" stroke="#F14040" stroke-width="9.0" stroke-linejoin="round"/>
<path d="M1498.50 2088.20 L1646.00 2088.20 L1646.00 2090.20 L1498.50 2090.20Z" fill="#1A6FDF" stroke="#1A6FDF" stroke-width="9.0" stroke-linejoin="round"/>
<text transform="translate(1680.40 1942.90) scale(1.0341 1)" font-size="70.40" text-anchor="start" class="t">250 μm</text>
<text transform="translate(1680.40 2028.80) scale(1.0341 1)" font-size="70.40" text-anchor="start" class="t">178 μm</text>
<text transform="translate(1680.40 2114.10) scale(1.0341 1)" font-size="70.40" text-anchor="start" class="t">150 μm</text>
</svg>
</body></html>
